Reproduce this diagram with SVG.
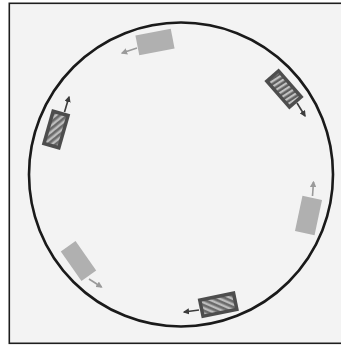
<svg xmlns="http://www.w3.org/2000/svg" width="341" height="346" viewBox="0 0 341 346">
  <style>
    .frame { fill: #f3f3f3; stroke: #1e1e1e; stroke-width: 1.6; }
    .track { fill: none; stroke: #1a1a1a; stroke-width: 2.6; }
    .light { fill: #b0b0b0; }
    .dark { fill: #4d4d4d; }
    .stripes { fill: url(#hatch); }
    .stripesV { fill: url(#hatchV); }
    .arrL { stroke: #9a9a9a; stroke-width: 1.6; fill: none; marker-end: url(#headL); }
    .arrD { stroke: #3c3c3c; stroke-width: 1.6; fill: none; marker-end: url(#headD); }
  </style>
  <defs>
    <pattern id="hatch" patternUnits="userSpaceOnUse" width="5" height="5" patternTransform="rotate(-55)">
      <rect x="0" y="0" width="5" height="5" fill="#6a6a6a"/>
      <rect x="0" y="0" width="2.4" height="5" fill="#bdbdbd"/>
    </pattern>
    <pattern id="hatchV" patternUnits="userSpaceOnUse" width="4.6" height="5" patternTransform="rotate(8)">
      <rect x="0" y="0" width="4.6" height="5" fill="#5e5e5e"/>
      <rect x="0" y="0" width="2.2" height="5" fill="#c2c2c2"/>
    </pattern>
    <marker id="headL" viewBox="0 0 10 10" refX="8" refY="5" markerWidth="4" markerHeight="4" orient="auto" markerUnits="strokeWidth">
      <path d="M0,0 L10,5 L0,10 z" fill="#9a9a9a"/>
    </marker>
    <marker id="headD" viewBox="0 0 10 10" refX="8" refY="5" markerWidth="4" markerHeight="4" orient="auto" markerUnits="strokeWidth">
      <path d="M0,0 L10,5 L0,10 z" fill="#3c3c3c"/>
    </marker>
  </defs>

  <rect x="0" y="0" width="341" height="346" fill="#ffffff"/>
  <rect class="frame" x="9.3" y="3.3" width="340" height="340"/>

  <g id="connectors">
    <circle class="track" cx="181" cy="174.5" r="152"/>
  </g>

  <g id="car-top">
    <rect class="light" x="-18" y="-10" width="36" height="20" transform="translate(155,42) rotate(-11)"/>
    <line class="arrL" x1="137" y1="48" x2="122" y2="53"/>
  </g>

  <g id="car-topright">
    <g transform="translate(284,89) rotate(49)">
      <rect class="dark" x="-19" y="-9.5" width="38" height="19"/>
      <rect class="stripesV" x="-15.5" y="-6" width="31" height="12"/>
    </g>
    <line class="arrD" x1="297" y1="103" x2="305" y2="116"/>
  </g>

  <g id="car-left">
    <g transform="translate(56,129.5) rotate(-74)">
      <rect class="dark" x="-18.5" y="-9.5" width="37" height="19"/>
      <rect class="stripes" x="-15" y="-6" width="30" height="12"/>
    </g>
    <line class="arrD" x1="64.5" y1="112" x2="69" y2="97"/>
  </g>

  <g id="car-right">
    <rect class="light" x="-18" y="-10" width="36" height="20" transform="translate(308.5,215.5) rotate(-78)"/>
    <line class="arrL" x1="312.5" y1="196" x2="313.5" y2="182"/>
  </g>

  <g id="car-bottomleft">
    <rect class="light" x="-18" y="-9" width="36" height="18" transform="translate(78.5,261) rotate(55)"/>
    <line class="arrL" x1="89" y1="279" x2="101.5" y2="287"/>
  </g>

  <g id="car-bottom">
    <g transform="translate(218.3,304.7) rotate(-11.5)">
      <rect class="dark" x="-19" y="-10" width="38" height="20"/>
      <rect class="stripes" x="-15.5" y="-6.5" width="31" height="13"/>
    </g>
    <line class="arrD" x1="199" y1="310" x2="184" y2="312"/>
  </g>
</svg>
